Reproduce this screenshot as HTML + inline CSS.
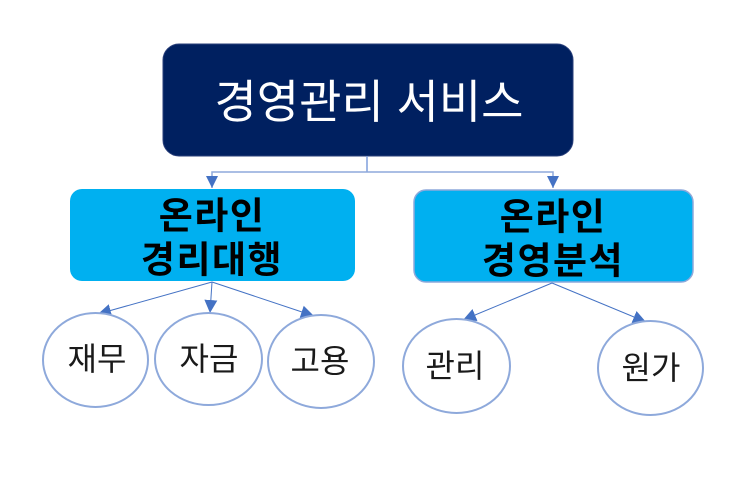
<!DOCTYPE html>
<html>
<head>
<meta charset="utf-8">
<style>
  html, body { margin:0; padding:0; background:#ffffff; }
  body { width:754px; height:480px; overflow:hidden; }
  svg { display:block; }
  text { font-family: "Liberation Sans", "Noto Sans CJK KR", "NanumGothic", sans-serif; }
</style>
</head>
<body>
<svg width="754" height="480" viewBox="0 0 754 480" xmlns="http://www.w3.org/2000/svg">
  <defs>
    <marker id="ah" viewBox="0 0 12 12" refX="12" refY="6" markerWidth="13" markerHeight="13" markerUnits="userSpaceOnUse" orient="auto">
      <path d="M0,0 L12,6 L0,12 z" fill="#4472C4"/>
    </marker>
  </defs>

  <!-- top box -->
  <rect x="163" y="44" width="410" height="112" rx="16" ry="16" fill="#002060" stroke="#2a3f7a" stroke-width="1"/>
  <text x="369" y="102" fill="#ffffff" font-size="46" text-anchor="middle" dominant-baseline="central">경영관리 서비스</text>

  <!-- top connectors -->
  <polyline points="367,156 367,172" fill="none" stroke="#7F9FDC" stroke-width="1.5"/>
  <polyline points="212,188 212,172 553,172 553,188" fill="none" stroke="#8EA9DB" stroke-width="1.5"/>
  <polygon points="212,188 206,176 218,176" fill="#4472C4"/>
  <polygon points="553,188 547,176 559,176" fill="#4472C4"/>

  <!-- left blue box -->
  <rect x="70" y="189" width="285" height="92" rx="12" ry="12" fill="#00B0F0"/>
  <text x="212" y="216" fill="#000000" font-size="37" font-weight="bold" letter-spacing="1.5" text-anchor="middle" dominant-baseline="central">온라인</text>
  <text x="212" y="260" fill="#000000" font-size="37" font-weight="bold" letter-spacing="1.5" text-anchor="middle" dominant-baseline="central">경리대행</text>

  <!-- right blue box -->
  <rect x="414" y="190" width="279" height="92" rx="12" ry="12" fill="#00B0F0" stroke="#8EA9DB" stroke-width="1.5"/>
  <text x="553" y="217" fill="#000000" font-size="37" font-weight="bold" letter-spacing="1.5" text-anchor="middle" dominant-baseline="central">온라인</text>
  <text x="553" y="261" fill="#000000" font-size="37" font-weight="bold" letter-spacing="1.5" text-anchor="middle" dominant-baseline="central">경영분석</text>

  <!-- child connectors -->
  <line x1="212" y1="282" x2="98" y2="314" stroke="#4472C4" stroke-width="1" marker-end="url(#ah)"/>
  <line x1="212" y1="282" x2="210" y2="313" stroke="#4472C4" stroke-width="1" marker-end="url(#ah)"/>
  <line x1="212" y1="282" x2="314" y2="316" stroke="#4472C4" stroke-width="1" marker-end="url(#ah)"/>
  <line x1="552" y1="283" x2="463" y2="320" stroke="#4472C4" stroke-width="1" marker-end="url(#ah)"/>
  <line x1="552" y1="283" x2="646" y2="322" stroke="#4472C4" stroke-width="1" marker-end="url(#ah)"/>

  <!-- circles -->
  <ellipse cx="95.5" cy="360" rx="52.5" ry="47" fill="#ffffff" stroke="#8EA9DB" stroke-width="2"/>
  <ellipse cx="208.5" cy="359" rx="53.5" ry="46" fill="#ffffff" stroke="#8EA9DB" stroke-width="2"/>
  <ellipse cx="321" cy="361.5" rx="53" ry="46.5" fill="#ffffff" stroke="#8EA9DB" stroke-width="2"/>
  <ellipse cx="456.5" cy="366" rx="53.5" ry="47" fill="#ffffff" stroke="#8EA9DB" stroke-width="2"/>
  <ellipse cx="650.5" cy="368" rx="52.5" ry="47" fill="#ffffff" stroke="#8EA9DB" stroke-width="2"/>

  <text x="97" y="359" fill="#1a1a1a" font-size="32" text-anchor="middle" dominant-baseline="central">재무</text>
  <text x="209" y="359" fill="#1a1a1a" font-size="32" text-anchor="middle" dominant-baseline="central">자금</text>
  <text x="320" y="361" fill="#1a1a1a" font-size="32" text-anchor="middle" dominant-baseline="central">고용</text>
  <text x="455" y="366" fill="#1a1a1a" font-size="32" text-anchor="middle" dominant-baseline="central">관리</text>
  <text x="651" y="368" fill="#1a1a1a" font-size="32" text-anchor="middle" dominant-baseline="central">원가</text>
</svg>
</body>
</html>
